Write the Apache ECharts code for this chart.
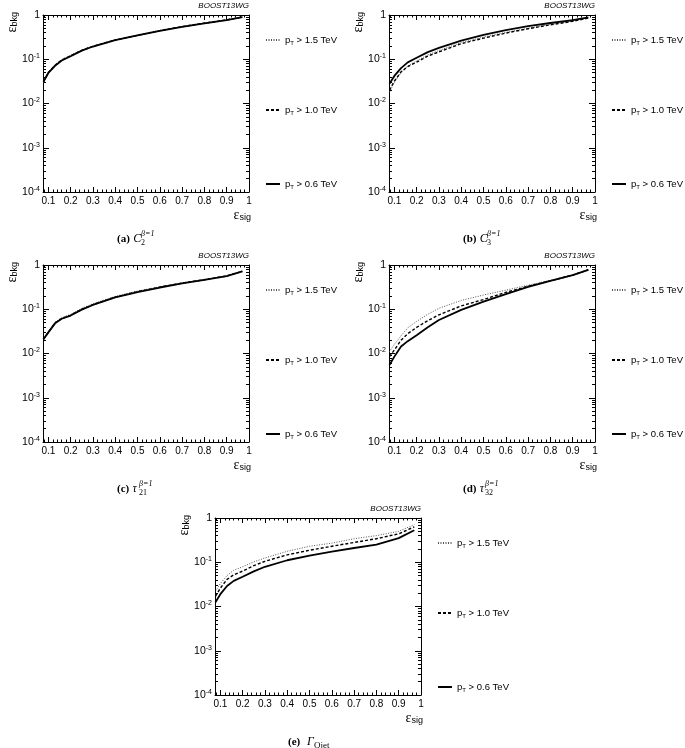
<!DOCTYPE html>
<html><head><meta charset="utf-8">
<script src="https://cdn.jsdelivr.net/npm/echarts@6/dist/echarts.min.js"></script>
<style>html,body{margin:0;padding:0;background:#fff}#c{width:685px;height:748px}</style>
</head><body><div id="c"></div>
<script>
// signal efficiency sample points (shared by all curves)
const sigEff = [0.078, 0.1, 0.13, 0.16, 0.2, 0.25, 0.3, 0.4, 0.5, 0.6, 0.7, 0.8, 0.9, 0.97];
// background efficiency per panel, per pT threshold
const a_pt15 = [0.030, 0.052, 0.076, 0.098, 0.124, 0.162, 0.198, 0.275, 0.352, 0.448, 0.55, 0.66, 0.78, 0.90];
const a_pt10 = [0.031, 0.050, 0.073, 0.096, 0.120, 0.159, 0.196, 0.272, 0.348, 0.444, 0.545, 0.655, 0.775, 0.90];
const a_pt06 = [0.031, 0.049, 0.071, 0.094, 0.117, 0.157, 0.194, 0.270, 0.345, 0.440, 0.54, 0.65, 0.77, 0.90];

const b_pt15 = [0.018, 0.030, 0.050, 0.070, 0.092, 0.125, 0.158, 0.238, 0.318, 0.405, 0.50, 0.61, 0.73, 0.86];
const b_pt10 = [0.020, 0.032, 0.052, 0.068, 0.086, 0.118, 0.147, 0.225, 0.300, 0.390, 0.49, 0.60, 0.72, 0.85];
const b_pt06 = [0.028, 0.042, 0.063, 0.085, 0.108, 0.145, 0.180, 0.265, 0.355, 0.455, 0.56, 0.66, 0.77, 0.88];

const c_pt15 = [0.022, 0.031, 0.051, 0.065, 0.077, 0.105, 0.133, 0.195, 0.258, 0.322, 0.395, 0.47, 0.57, 0.73];
const c_pt10 = [0.021, 0.030, 0.049, 0.062, 0.073, 0.100, 0.127, 0.188, 0.250, 0.315, 0.39, 0.465, 0.565, 0.72];
const c_pt06 = [0.021, 0.030, 0.048, 0.061, 0.072, 0.098, 0.125, 0.185, 0.245, 0.310, 0.385, 0.46, 0.56, 0.72];

const d_pt15 = [0.011, 0.016, 0.025, 0.038, 0.053, 0.077, 0.105, 0.158, 0.21, 0.27, 0.35, 0.45, 0.59, 0.78];
const d_pt10 = [0.0085, 0.012, 0.020, 0.028, 0.039, 0.055, 0.075, 0.119, 0.166, 0.24, 0.33, 0.44, 0.59, 0.78];
const d_pt06 = [0.0055, 0.0085, 0.0144, 0.019, 0.026, 0.039, 0.057, 0.097, 0.149, 0.22, 0.32, 0.44, 0.59, 0.78];

const e_pt15 = [0.022, 0.033, 0.050, 0.066, 0.079, 0.102, 0.125, 0.177, 0.23, 0.27, 0.34, 0.40, 0.50, 0.71];
const e_pt10 = [0.017, 0.026, 0.041, 0.052, 0.063, 0.084, 0.105, 0.147, 0.187, 0.23, 0.28, 0.34, 0.44, 0.63];
const e_pt06 = [0.0125, 0.019, 0.029, 0.038, 0.047, 0.062, 0.079, 0.111, 0.141, 0.174, 0.21, 0.25, 0.35, 0.53];

const seriesNames = ['pT > 1.5 TeV', 'pT > 1.0 TeV', 'pT > 0.6 TeV'];
const panelTags = ['(a)', '(b)', '(c)', '(d)', '(e)'];
const xMajorTicks = [0.1, 0.2, 0.3, 0.4, 0.5, 0.6, 0.7, 0.8, 0.9, 1];
const xMinorTicks = [0.08, 0.12, 0.14, 0.16, 0.18, 0.22, 0.24, 0.26, 0.28, 0.32, 0.34, 0.36, 0.38,
  0.42, 0.44, 0.46, 0.48, 0.52, 0.54, 0.56, 0.58, 0.62, 0.64, 0.66, 0.68, 0.72, 0.74, 0.76, 0.78,
  0.82, 0.84, 0.86, 0.88, 0.92, 0.94, 0.96, 0.98];
const yMajorTicks = [0.0001, 0.001, 0.01, 0.1, 1];
const yMinorTicks = [];
[0.0001, 0.001, 0.01, 0.1].forEach(d => { for (let k = 2; k <= 9; k++) yMinorTicks.push(+(d * k).toPrecision(3)); });

const panelData = [
  [a_pt15, a_pt10, a_pt06],
  [b_pt15, b_pt10, b_pt06],
  [c_pt15, c_pt10, c_pt06],
  [d_pt15, d_pt10, d_pt06],
  [e_pt15, e_pt10, e_pt06]
];

// layout
const GW = 206, GH = 177;
const gridPos = [[43, 15], [389, 15], [43, 265], [389, 265], [215, 518]];
const XMIN = 0.076;

const lineStyles = [
  { color: '#555', width: 1, type: [1, 1.5] },
  { color: '#000', width: 1.4, type: [3, 2] },
  { color: '#000', width: 1.8, type: 'solid' }
];

const SANS = 'Liberation Sans';
const SERIF = 'Liberation Serif';

const grids = [], xAxes = [], yAxes = [], series = [], legends = [], graphics = [];

gridPos.forEach((p, i) => {
  grids.push({ left: p[0], top: p[1], width: GW, height: GH, containLabel: false });
  const xBase = { gridIndex: i, type: 'value', min: XMIN, max: 1, splitLine: { show: false } };
  const axLine = { show: true, onZero: false, lineStyle: { color: '#000', width: 1 } };
  xAxes.push(Object.assign({}, xBase, {
    position: 'bottom', axisLine: axLine,
    axisTick: { show: true, inside: true, length: 5, customValues: xMajorTicks, lineStyle: { color: '#000' } },
    axisLabel: { show: true, customValues: xMajorTicks, margin: 4, color: '#000', fontFamily: SANS, fontSize: 10,
      formatter: v => (Math.abs(v - 1) < 1e-9 ? '1' : v.toFixed(1)) }
  }));
  xAxes.push(Object.assign({}, xBase, {
    position: 'bottom', axisLine: { show: false },
    axisTick: { show: true, inside: true, length: 2.5, customValues: xMinorTicks, lineStyle: { color: '#000' } },
    axisLabel: { show: false }
  }));
  xAxes.push(Object.assign({}, xBase, {
    position: 'top', axisLine: axLine,
    axisTick: { show: true, inside: true, length: 5, customValues: xMajorTicks, lineStyle: { color: '#000' } },
    axisLabel: { show: false }
  }));
  xAxes.push(Object.assign({}, xBase, {
    position: 'top', axisLine: { show: false },
    axisTick: { show: true, inside: true, length: 2.5, customValues: xMinorTicks, lineStyle: { color: '#000' } },
    axisLabel: { show: false }
  }));

  const yBase = { gridIndex: i, type: 'log', logBase: 10, min: 0.0001, max: 1, splitLine: { show: false } };
  yAxes.push(Object.assign({}, yBase, {
    position: 'left', axisLine: axLine,
    axisTick: { show: true, inside: true, length: 6, customValues: yMajorTicks, lineStyle: { color: '#000' } },
    axisLabel: { show: true, customValues: yMajorTicks, margin: 3, color: '#000', fontFamily: SANS,
      formatter: v => {
        if (v >= 0.999) return '{b|1}';
        const e = Math.round(Math.log10(v));
        return '{b|10}{s|' + e + '}';
      },
      rich: {
        b: { fontSize: 10.5, fontFamily: SANS, color: '#000', lineHeight: 13 },
        s: { fontSize: 7, fontFamily: SANS, color: '#000', lineHeight: 8, verticalAlign: 'top' }
      }
    }
  }));
  yAxes.push(Object.assign({}, yBase, {
    position: 'left', axisLine: { show: false },
    axisTick: { show: true, inside: true, length: 3, customValues: yMinorTicks, lineStyle: { color: '#000' } },
    axisLabel: { show: false }
  }));
  yAxes.push(Object.assign({}, yBase, {
    position: 'right', axisLine: axLine,
    axisTick: { show: true, inside: true, length: 6, customValues: yMajorTicks, lineStyle: { color: '#000' } },
    axisLabel: { show: false }
  }));
  yAxes.push(Object.assign({}, yBase, {
    position: 'right', axisLine: { show: false },
    axisTick: { show: true, inside: true, length: 3, customValues: yMinorTicks, lineStyle: { color: '#000' } },
    axisLabel: { show: false }
  }));

  panelData[i].forEach((vals, k) => {
    series.push({
      name: seriesNames[k], type: 'line', xAxisIndex: i * 4, yAxisIndex: i * 4,
      data: sigEff.map((x, j) => [x, vals[j]]),
      symbol: 'none', smooth: false, silent: true,
      lineStyle: lineStyles[k], itemStyle: { color: lineStyles[k].color }, z: 2 + k
    });
  });

  // legends: one entry per legend to control exact placement
  const legTops = [25, 95, 169];
  seriesNames.forEach((nm, k) => {
    legends.push({
      data: [nm], left: p[0] + 222, top: p[1] + legTops[k] - 5, orient: 'vertical',
      itemWidth: 14, itemHeight: 10, itemGap: 0, padding: 0, selectedMode: false,
      itemStyle: { opacity: 0 },
      formatter: n => '{p|p}{s|T}{t|' + n.slice(2) + '}',
      textStyle: {
        color: '#000', fontFamily: SANS, fontSize: 9,
        rich: {
          p: { fontSize: 9.5, fontFamily: SANS, color: '#000', lineHeight: 12 },
          s: { fontSize: 6, fontFamily: SANS, color: '#000', lineHeight: 7, verticalAlign: 'bottom' },
          t: { fontSize: 9.5, fontFamily: SANS, color: '#000', lineHeight: 12 }
        }
      }
    });
  });

  const right = p[0] + GW;
  // BOOST13WG tag
  graphics.push({ type: 'text', x: right, y: p[1] - 9, style: { text: 'BOOST13WG', fontFamily: SANS, fontStyle: 'italic', fontSize: 8, fill: '#000', align: 'right', verticalAlign: 'middle' } });
  // y title
  graphics.push({ type: 'text', x: p[0] - 31, y: p[1] - 3, rotation: Math.PI / 2, style: {
    text: '{e|ε}{s|bkg}', align: 'right', verticalAlign: 'middle',
    rich: { e: { fontFamily: SERIF, fontSize: 14, fill: '#000', lineHeight: 15 }, s: { fontFamily: SANS, fontSize: 9, fill: '#000', lineHeight: 8, verticalAlign: 'bottom' } } } });
  // x title
  graphics.push({ type: 'text', x: right + 2, y: p[1] + 200, style: {
    text: '{e|ε}{s|sig}', align: 'right', verticalAlign: 'middle',
    rich: { e: { fontFamily: SERIF, fontSize: 14, fill: '#000', lineHeight: 15 }, s: { fontFamily: SANS, fontSize: 9, fill: '#000', lineHeight: 8, verticalAlign: 'bottom' } } } });
});

// captions
const capStyle = { b: { fontFamily: SERIF, fontWeight: 'bold', fontSize: 11, fill: '#000' }, i: { fontFamily: SERIF, fontStyle: 'italic', fontSize: 12, fill: '#000' } };
const capSub = ['2', '3', '21', '32'];
const capMain = ['C', 'C', 'τ', 'τ'];
[0, 1, 2, 3].forEach(i => {
  const p = gridPos[i];
  const x0 = p[0] + 74, y0 = p[1] + 224;
  graphics.push({ type: 'text', x: x0, y: y0, style: { text: '{b|' + panelTags[i] + '} {i|' + capMain[i] + '}', rich: capStyle, align: 'left', verticalAlign: 'middle' } });
  const cx = x0 + (capMain[i] === 'C' ? 24 : 22);
  graphics.push({ type: 'text', x: cx, y: y0 + 4, style: { text: capSub[i], fontFamily: SERIF, fontSize: 8, fill: '#000', align: 'left', verticalAlign: 'middle' } });
  graphics.push({ type: 'text', x: cx, y: y0 - 5, style: { text: 'β=1', fontFamily: SERIF, fontStyle: 'italic', fontSize: 8, fill: '#000', align: 'left', verticalAlign: 'middle' } });
});
{
  const p = gridPos[4];
  const x0 = p[0] + 73, y0 = p[1] + 224;
  graphics.push({ type: 'text', x: x0, y: y0, style: { text: '{b|(e)}  {i|Γ}', rich: capStyle, align: 'left', verticalAlign: 'middle' } });
  graphics.push({ type: 'text', x: x0 + 26, y: y0 + 4, style: { text: 'Qjet', fontFamily: SERIF, fontSize: 9, fill: '#000', align: 'left', verticalAlign: 'middle' } });
}

const chart = echarts.init(document.getElementById('c'), null, { renderer: 'canvas' });
chart.setOption({
  animation: false,
  backgroundColor: '#fff',
  grid: grids, xAxis: xAxes, yAxis: yAxes, series: series, legend: legends, graphic: graphics
});
</script></body></html>
